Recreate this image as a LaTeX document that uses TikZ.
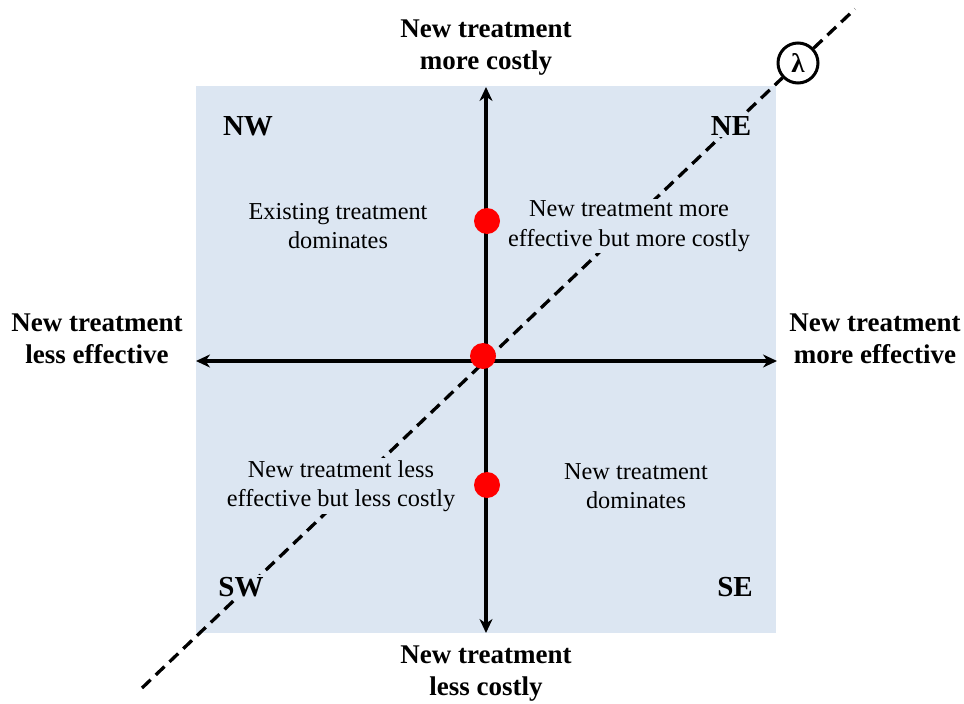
\documentclass[tikz,border=0pt]{standalone}
\usepackage{fontspec}
\setmainfont{Liberation Serif}
\usetikzlibrary{arrows.meta}
\definecolor{quadfill}{HTML}{DCE6F2}
\definecolor{dotred}{HTML}{FF0000}
\begin{document}
\begin{tikzpicture}[x=1pt,y=-1pt,
  axisline/.style={line width=3.3pt, {Stealth[length=14pt,width=13pt,inset=4.5pt]}-{Stealth[length=14pt,width=13pt,inset=4.5pt]}},
  lambdaline/.style={line width=3.3pt, dash pattern=on 12pt off 7pt},
  lambdabox/.style={circle, draw, line width=3pt, fill=white, minimum size=40pt, inner sep=0pt,
    font=\fontsize{27}{29}\selectfont\bfseries},
  reddot/.style={circle, fill=dotred, minimum size=26pt, inner sep=0pt},
  axislabel/.style={align=center, font=\fontsize{27}{32}\selectfont\bfseries},
  cornerlabel/.style={fill=quadfill, inner sep=2pt, font=\fontsize{29}{32}\selectfont\bfseries},
  quadtext/.style={align=center, fill=quadfill, inner sep=2pt, font=\fontsize{24.3}{29.5}\selectfont}]
\useasboundingbox (0,0) rectangle (964,704);

% cost-effectiveness plane background
\fill[quadfill] (196,86) rectangle (776,633);

% willingness-to-pay threshold line
\coordinate (lstart) at (142,688);
\coordinate (lend) at (855,9);
\node[lambdabox] (lam) at (798,63) {λ};
\draw[lambdaline] (lstart) -- (lam);
\draw[lambdaline] (lam) -- (lend);

% axes
\coordinate (ytop) at (486,87);
\coordinate (ybot) at (486,633);
\coordinate (xleft) at (196,361);
\coordinate (xright) at (777,361);
\draw[axisline] (xleft) -- (xright);
\draw[axisline] (ybot) -- (ytop);

% points on the plane
\node[reddot] (ptop) at (487,221) {};
\node[reddot] (pmid) at (483,356) {};
\node[reddot] (pbot) at (487,485) {};

% axis labels
\node[axislabel] (lbltop) at (486,48) {New treatment\\more costly};
\node[axislabel] (lblbot) at (486,674) {New treatment\\less costly};
\node[axislabel] (lblleft) at (97,339) {New treatment\\less effective};
\node[axislabel] (lblright) at (875,339) {New treatment\\more effective};

% quadrant names
\node[cornerlabel] (nw) at (248,126) {NW};
\node[cornerlabel] (ne) at (731,126) {NE};
\node[cornerlabel] (sw) at (241,587) {SW};
\node[cornerlabel] (se) at (735,587) {SE};

% quadrant descriptions
\node[quadtext] (qnw) at (338,226) {Existing treatment\\dominates};
\node[quadtext] (qne) at (629,226) {New treatment more\\effective but more costly};
\node[quadtext] (qsw) at (341,486) {New treatment less\\effective but less costly};
\node[quadtext] (qse) at (636,486) {New treatment\\dominates};
\end{tikzpicture}
\end{document}
